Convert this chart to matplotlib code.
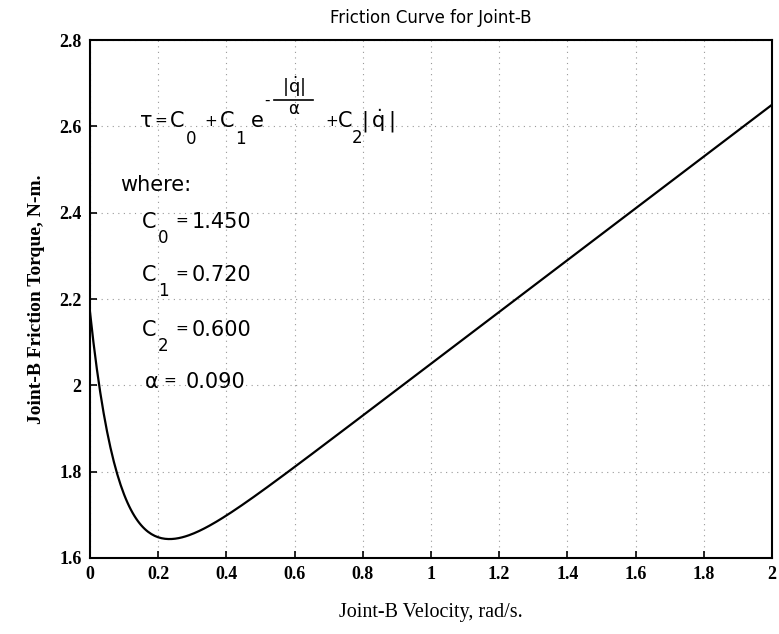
import numpy as np
import matplotlib
matplotlib.use("Agg")
import matplotlib.pyplot as plt
from matplotlib.transforms import Affine2D
from matplotlib.lines import Line2D

# friction model constants for joint B
C0 = 1.450
C1 = 0.720
C2 = 0.600
alpha = 0.090

# joint velocity samples, rad/s
velocity = np.linspace(0, 2, 401)
torque = C0 + C1 * np.exp(-np.abs(velocity) / alpha) + C2 * np.abs(velocity)

xticks = [0, 0.2, 0.4, 0.6, 0.8, 1, 1.2, 1.4, 1.6, 1.8, 2]
xticklabels = ["0", "0.2", "0.4", "0.6", "0.8", "1", "1.2", "1.4", "1.6", "1.8", "2"]
yticks = [1.6, 1.8, 2.0, 2.2, 2.4, 2.6, 2.8]
yticklabels = ["1.6", "1.8", "2", "2.2", "2.4", "2.6", "2.8"]

plt.rcParams["mathtext.fontset"] = "dejavusans"

W, H = 779, 634
fig = plt.figure(figsize=(W / 100, H / 100), dpi=100)
ax = fig.add_axes([90 / W, 1 - 558 / H, 682 / W, 518 / H])

ax.plot(velocity, torque, color="black", lw=1.6)

ax.set_xlim(0, 2)
ax.set_ylim(1.6, 2.8)
ax.set_xticks(xticks)
ax.set_xticklabels(xticklabels)
ax.set_yticks(yticks)
ax.set_yticklabels(yticklabels)
ax.tick_params(direction="in", length=5, width=1.2, pad=6)
for lab in ax.get_xticklabels() + ax.get_yticklabels():
    lab.set_family("Liberation Serif")
    lab.set_fontsize(13)
    lab.set_fontweight("bold")
for s in ax.spines.values():
    s.set_linewidth(1.5)

ax.grid(True, linestyle=(0, (1, 4)), color="#999999", lw=0.8)

ax.set_title("Friction Curve for Joint-B", fontsize=12, family="DejaVu Sans", pad=12)
ax.set_xlabel("Joint-B Velocity, rad/s.", fontsize=14.5, family="Liberation Serif", labelpad=14)
ax.set_ylabel("Joint-B Friction Torque, N-m.", fontsize=14, family="Liberation Serif",
              fontweight="bold", labelpad=10)

# pixel-based placement for the annotation (origin top-left)
pix = Affine2D().scale(1 / W, -1 / H).translate(0, 1) + fig.transFigure


def put(x, y, s, size=15, ha="left"):
    fig.text(x, y, s, transform=pix, fontsize=size, family="DejaVu Sans",
             ha=ha, va="center")


# friction equation, piece by piece
put(140, 121, "\u03c4")
put(154, 120, "=", 11)
put(170, 121, "C")
put(186, 139, "0", 12)
put(204, 121, "+", 11)
put(220, 121, "C")
put(235, 139, "1", 12)
put(251, 121, "e")
put(264, 100, "-", 11)
fig.add_artist(Line2D([274, 313], [100, 100], transform=pix, color="black", lw=1.2))
put(294, 87, r"$|\dot{\mathrm{q}}|$", 13, ha="center")
put(294, 109, "\u03b1", 12, ha="center")
put(325, 121, "+", 11)
put(338, 121, "C")
put(352, 138, "2", 12)
put(361, 121, r"$|\,\dot{\mathrm{q}}\,|$", 15)

# constants
put(120, 185, "where:")
rows = [("C", "0", C0, 222), ("C", "1", C1, 275), ("C", "2", C2, 330)]
for sym, sub, val, y in rows:
    put(142, y, sym)
    put(158, y + 16, sub, 12)
    put(175, y - 2, "=", 11)
    put(192, y, "%.3f" % val)
put(145, 382, "\u03b1")
put(163, 380, "=", 11)
put(186, 382, "%.3f" % alpha)

fig.savefig("out.png", dpi=100)
